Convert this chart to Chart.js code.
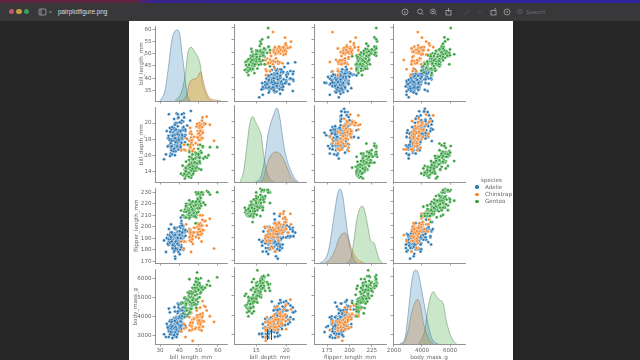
<!DOCTYPE html>
<html>
<head>
<meta charset="utf-8">
<title>pairplotfigure.png</title>
<script src="https://cdn.jsdelivr.net/npm/chart.js@4"></script>
<style>
  html, body { margin: 0; width: 640px; height: 360px; overflow: hidden; background: #262627; }
  #page { position: absolute; left: 0; top: 0; width: 640px; height: 360px; filter: blur(0.45px); font-family: "DejaVu Sans", sans-serif; }
  #strip { position: absolute; left: 0; top: 0; width: 640px; height: 3px; background: linear-gradient(90deg, #5e2440 0, #5e2440 135px, #3a2390 150px, #2c23a0 640px); }
  #bar { position: absolute; left: 0; top: 3px; width: 640px; height: 18px; background: #38383a; }
  #name { position: absolute; left: 58px; top: 8px; color: #dcdcdc; font: 6.4px "Liberation Sans", sans-serif; }
  #search { position: absolute; left: 526px; top: 8.5px; color: #6b6b6d; font: 6px "Liberation Sans", sans-serif; }
  .light { position: absolute; top: 8.5px; width: 5.5px; height: 5.5px; border-radius: 50%; }
  #sheet { position: absolute; left: 129px; top: 21px; width: 384px; height: 339px; background: #fff; }
  #plots canvas { position: absolute; }
  #legend { position: absolute; left: 0; top: 0; color: #666; font-size: 5.6px; }
  #legend span { position: absolute; white-space: nowrap; line-height: 7px; }
  #legend i { position: absolute; width: 3.4px; height: 3.4px; border-radius: 50%; }
  .cursor { position: absolute; background: #444; }
</style>
</head>
<body>
<div id="page">
  <div id="strip"></div>
  <div id="bar"></div>
  <div class="light" style="left:8.5px;background:#c4586a"></div>
  <div class="light" style="left:16px;background:#c89c3e"></div>
  <div class="light" style="left:23.5px;background:#3f9f5a"></div>
  <div id="name">pairplotfigure.png</div>
  <svg style="position:absolute;left:0;top:0" width="640" height="24" fill="none" stroke="#a8a8aa" stroke-width="0.8">
    <rect x="39" y="9" width="7" height="6" rx="1"/><path d="M41 9v6M49 12h3"/>
    <circle cx="405" cy="12" r="3"/><path d="M405 11v3"/>
    <circle cx="420" cy="11.5" r="2.4"/><path d="M422 13.5l1.5 1.5"/>
    <circle cx="433" cy="11.5" r="2.4"/><path d="M435 13.5l1.5 1.5M433 10.5v2M432 11.5h2"/>
    <rect x="446" y="10.5" width="5" height="4.5"/><path d="M448.5 12V8"/>
    <path stroke="#5c5c5e" d="M465 15l4-5M478 11.5l1.5 1.5 1.5-1.5"/>
    <rect x="491" y="10.5" width="5" height="4.5"/><path d="M494 10l2-2"/>
    <circle cx="507" cy="12" r="3"/><path d="M506 11l1 1.5 1-1.5"/>
    <circle cx="520" cy="11.5" r="2" stroke="#6b6b6d"/>
  </svg>
  <div id="search">Search</div>
  <div id="sheet"></div>
  <div id="plots"></div>
  <div class="cursor" style="left:267px;top:329px;width:0.7px;height:11px"></div>
  <div class="cursor" style="left:270.5px;top:329px;width:0.7px;height:11px"></div>
  <div id="legend"></div>
</div>
<script>
// columns: bill_length_mm, bill_depth_mm, flipper_length_mm, body_mass_g
const adelie = [
  [39.1,18.7,181,3750],[39.5,17.4,186,3800],[40.3,18.0,195,3250],[36.7,19.3,193,3450],[39.3,20.6,190,3650],
  [38.9,17.8,181,3625],[39.2,19.6,195,4675],[34.1,18.1,193,3475],[42.0,20.2,190,4250],[37.8,17.1,186,3300],
  [37.8,17.3,180,3700],[41.1,17.6,182,3200],[38.6,21.2,191,3800],[34.6,21.1,198,4400],[36.6,17.8,185,3700],
  [38.7,19.0,195,3450],[42.5,20.7,197,4500],[34.4,18.4,184,3325],[46.0,21.5,194,4200],[37.8,18.3,174,3400],
  [37.7,18.7,180,3600],[35.9,19.2,189,3800],[38.2,18.1,185,3950],[38.8,17.2,180,3800],[35.3,18.9,187,3800],
  [40.6,18.6,183,3550],[40.5,17.9,187,3200],[37.9,18.6,172,3150],[40.5,18.9,180,3950],[39.5,16.7,178,3250],
  [37.2,18.1,178,3900],[39.5,17.8,188,3300],[40.9,18.9,184,3900],[36.4,17.0,195,3325],[39.2,21.1,196,4150],
  [38.8,20.0,190,3950],[42.2,18.5,180,3550],[37.6,19.3,181,3300],[39.8,19.1,184,4650],[36.5,18.0,182,3150],
  [40.8,18.4,195,3900],[36.0,18.5,186,3100],[44.1,19.7,196,4400],[37.0,16.9,185,3000],[39.6,18.8,190,4600],
  [41.1,19.0,182,3425],[37.5,18.9,179,2975],[36.0,17.9,190,3450],[42.3,21.2,191,4150],[39.6,17.7,186,3500],
  [40.1,18.9,188,4300],[35.0,17.9,190,3450],[42.0,19.5,200,4050],[34.5,18.1,187,2900],[41.4,18.6,191,3700],
  [39.0,17.5,186,3550],[40.6,18.8,193,3800],[36.5,16.6,181,2850],[37.6,19.1,194,3750],[35.7,16.9,185,3150],
  [41.3,21.1,195,4400],[37.6,17.0,185,3600],[41.1,18.2,192,4050],[36.4,17.1,184,2850],[41.6,18.0,192,3950],
  [35.5,16.2,195,3350],[41.1,19.1,188,4100],[35.9,16.6,190,3050],[41.8,19.4,198,4450],[33.5,19.0,190,3600],
  [39.7,18.4,190,3900],[39.6,17.2,196,3550],[45.8,18.9,197,4150],[35.5,17.5,190,3700],[42.8,18.5,195,4250],
  [40.9,16.8,191,3700],[37.2,19.4,184,3900],[36.2,16.1,187,3550],[42.1,19.1,195,4000],[34.6,17.2,189,3200],
  [42.9,17.6,196,4700],[36.7,18.8,187,3800],[35.1,19.4,193,4200],[37.3,17.8,191,3350],[41.3,20.3,194,3550],
  [36.3,19.5,190,3800],[36.9,18.6,189,3500],[38.3,19.2,189,3950],[38.9,18.8,190,3600],[35.7,18.0,202,3550],
  [41.1,18.1,205,4300],[34.0,17.1,185,3400],[39.6,18.1,186,4450],[36.2,17.3,187,3300],[40.8,18.9,208,4300],
  [38.1,18.6,190,3700],[40.3,18.5,196,4350],[33.1,16.1,178,2900],[43.2,18.5,192,4100],[35.0,17.9,192,3725],
  [41.0,20.0,203,4725],[37.7,16.0,183,3075],[37.8,20.0,190,4250],[37.9,18.6,193,2925],[39.7,18.9,184,3550],
  [38.6,17.2,199,3750],[38.2,20.0,190,3900],[38.1,17.0,181,3175],[43.2,19.0,197,4775],[38.1,16.5,198,3825],
  [45.6,20.3,191,4600],[39.7,17.7,193,3200],[42.2,19.5,197,4275],[39.6,20.7,191,3900],[42.7,18.3,196,4075],
  [38.6,17.0,188,2900],[37.3,20.5,199,3775],[35.7,17.0,189,3350],[41.1,18.6,189,3325],[36.2,17.2,187,3150],
  [37.7,19.8,198,3500],[40.2,17.0,176,3450],[41.4,18.5,202,3875],[35.2,15.9,186,3050],[40.6,19.0,199,4000],
  [38.8,17.6,191,3275],[41.5,18.3,195,4300],[39.0,17.1,191,3050],[44.1,18.0,210,4000],[38.5,17.9,190,3325],
  [43.1,19.2,197,3500],[36.8,18.5,193,3500],[37.5,18.5,199,4475],[38.1,17.6,187,3425],[41.1,17.5,190,3900],
  [35.6,17.5,191,3175],[40.2,20.1,200,3975],[37.0,16.5,185,3400],[39.7,17.9,193,4250],[40.2,17.1,193,3400],
  [40.6,17.2,187,3475],[32.1,15.5,188,3050],[40.7,17.0,190,3725],[37.3,16.8,192,3000],[39.0,18.7,185,3650],
  [39.2,18.6,190,4250],[36.6,18.4,184,3475],[36.0,17.8,195,3450],[37.8,18.1,193,3750],[36.0,17.1,187,3700],
  [41.5,18.5,201,4000]
];
const chinstrap = [
  [46.5,17.9,192,3500],[50.0,19.5,196,3900],[51.3,19.2,193,3650],[45.4,18.7,188,3525],[52.7,19.8,197,3725],
  [45.2,17.8,198,3950],[46.1,18.2,178,3250],[51.3,18.2,197,3750],[46.0,18.9,195,4150],[51.3,19.9,198,3700],
  [46.6,17.8,193,3800],[51.7,20.3,194,3775],[47.0,17.3,185,3700],[52.0,18.1,201,4050],[45.9,17.1,190,3575],
  [50.5,19.6,201,4050],[50.3,20.0,197,3300],[58.0,17.8,181,3700],[46.4,18.6,190,3450],[49.2,18.2,195,4400],
  [42.4,17.3,181,3600],[48.5,17.5,191,3400],[43.2,16.6,187,2900],[50.6,19.4,193,3800],[46.7,17.9,195,3300],
  [52.0,19.0,197,4150],[50.5,18.4,200,3400],[49.5,19.0,200,3800],[46.4,17.8,191,3700],[52.8,20.0,205,4550],
  [40.9,16.6,187,3200],[54.2,20.8,201,4300],[42.5,16.7,187,3350],[51.0,18.8,203,4100],[49.7,18.6,195,3600],
  [47.5,16.8,199,3900],[47.6,18.3,195,3850],[52.0,20.7,210,4800],[46.9,16.6,192,2700],[53.5,19.9,205,4500],
  [49.0,19.5,210,3950],[46.2,17.5,187,3650],[50.9,19.1,196,3550],[45.5,17.0,196,3500],[50.9,17.9,196,3675],
  [50.8,18.5,201,4450],[50.1,17.9,190,3400],[49.0,19.6,212,4300],[51.5,18.7,187,3250],[49.8,17.3,198,3675],
  [48.1,16.4,199,3325],[51.4,19.0,201,3950],[45.7,17.3,193,3600],[50.7,19.7,203,4050],[42.5,17.3,187,3350],
  [52.2,18.8,197,3450],[45.2,16.6,191,3250],[49.3,19.9,203,4050],[50.2,18.8,202,3800],[45.6,19.4,194,3525],
  [51.9,19.5,206,3950],[46.8,16.5,189,3650],[45.7,17.0,195,3650],[55.8,19.8,207,4000],[43.5,18.1,202,3400],
  [49.6,18.2,193,3775],[50.8,19.0,210,4100],[50.2,18.7,198,3775]
];
const gentoo = [
  [46.1,13.2,211,4500],[50.0,16.3,230,5700],[48.7,14.1,210,4450],[50.0,15.2,218,5700],[47.6,14.5,215,5400],
  [46.5,13.5,210,4550],[45.4,14.6,211,4800],[46.7,15.3,219,5200],[43.3,13.4,209,4400],[46.8,15.4,215,5150],
  [40.9,13.7,214,4650],[49.0,16.1,216,5550],[45.5,13.7,214,4650],[48.4,14.6,213,5850],[45.8,14.6,210,4200],
  [49.3,15.7,217,5850],[42.0,13.5,210,4150],[49.2,15.2,221,6300],[46.2,14.5,209,4800],[48.7,15.1,222,5350],
  [50.2,14.3,218,5700],[45.1,14.5,215,5000],[46.5,14.5,213,4400],[46.3,15.8,215,5050],[42.9,13.1,215,5000],
  [46.1,15.1,215,5100],[44.5,14.3,216,4100],[47.8,15.0,215,5650],[48.2,14.3,210,4600],[50.0,15.3,220,5550],
  [47.3,15.3,222,5250],[42.8,14.2,209,4700],[45.1,14.5,207,5050],[59.6,17.0,230,6050],[49.1,14.8,220,5150],
  [48.4,16.3,220,5400],[42.6,13.7,213,4950],[44.4,17.3,219,5250],[44.0,13.6,208,4350],[48.7,15.7,208,5350],
  [42.7,13.7,208,3950],[49.6,16.0,225,5700],[45.3,13.7,210,4300],[49.6,15.0,216,4750],[50.5,15.9,222,5550],
  [43.6,13.9,217,4900],[45.5,13.9,210,4200],[50.5,15.9,225,5400],[44.9,13.3,213,5100],[45.2,15.8,215,5300],
  [46.6,14.2,210,4850],[48.5,14.1,220,5300],[45.1,14.4,210,4400],[50.1,15.0,225,5000],[46.5,14.4,217,4900],
  [45.0,15.4,220,5050],[43.8,13.9,208,4300],[45.5,15.0,220,5000],[43.2,14.5,208,4450],[50.4,15.3,224,5550],
  [45.3,13.8,208,4200],[46.2,14.9,221,5300],[45.7,13.9,214,4400],[54.3,15.7,231,5650],[45.8,14.2,219,4700],
  [49.8,16.8,230,5700],[46.2,14.4,214,4650],[49.5,16.2,229,5800],[43.5,14.2,220,4700],[50.7,15.0,223,5550],
  [47.7,15.0,216,4750],[46.4,15.6,221,5000],[48.2,15.6,221,5100],[46.5,14.8,217,5200],[46.4,15.0,216,4700],
  [48.6,16.0,230,5800],[47.5,14.2,209,4600],[51.1,16.3,220,6000],[45.2,13.8,215,4750],[45.2,16.4,223,5950],
  [49.1,14.5,212,4625],[52.5,15.6,221,5450],[47.4,14.6,212,4725],[50.0,15.9,224,5350],[44.9,13.8,212,4750],
  [50.8,17.3,228,5600],[43.4,14.4,218,4600],[51.3,14.2,218,5300],[47.5,14.0,212,4875],[52.1,17.0,230,5550],
  [47.5,15.0,218,4950],[52.2,17.1,228,5400],[45.5,14.5,212,4750],[49.5,16.1,224,5650],[44.5,14.7,214,4850],
  [50.8,15.7,226,5200],[49.4,15.8,216,4925],[46.9,14.6,222,4875],[48.4,14.4,203,4625],[51.1,16.5,225,5250],
  [48.5,15.0,219,4850],[55.9,17.0,228,5600],[47.2,15.5,215,4975],[49.1,15.0,228,5500],[46.8,16.1,215,5500],
  [41.7,14.7,210,4700],[53.4,15.8,219,5500],[43.3,14.0,208,4575],[48.1,15.1,209,5500],[50.5,15.2,216,5000],
  [49.8,15.9,229,5950],[43.5,15.2,213,4650],[51.5,16.3,230,5500],[46.2,14.1,217,4375],[55.1,16.0,230,5850],
  [48.8,16.2,222,6000],[47.2,13.7,214,4925],[46.8,14.3,215,4850],[50.4,15.7,222,5750],[45.2,14.8,212,5200],
  [49.9,16.1,213,5400]
];

const speciesNames = ['Adelie', 'Chinstrap', 'Gentoo'];
const variables = ['bill_length_mm', 'bill_depth_mm', 'flipper_length_mm', 'body_mass_g'];

const xRanges = [[27.4, 64.7], [11.3, 23.3], [160.2, 241], [1930, 7070]];
const yRanges = [[30.6, 61.2], [12.66, 21.95], [168.3, 233.4], [2534, 6466]];
const xTicks = [[30, 40, 50, 60], [15, 20], [175, 200, 225], [2000, 4000, 6000]];
const yTicks = [[35, 40, 45, 50, 55, 60], [14, 16, 18, 20], [170, 180, 190, 200, 210, 220, 230], [3000, 4000, 5000, 6000]];

// diagonal curves: [value, share of panel height]
const kdeBillLengthAdelie = [[30,0],[32.6,.14],[34.4,.46],[36.1,.81],[37.4,.92],[38.8,.95],[40.2,.9],[41.4,.64],[42.3,.46],[43.2,.25],[44.4,.05],[45.8,0]];
const kdeBillLengthChinstrap = [[39.6,0],[42.3,.02],[44,.1],[45.4,.25],[47.2,.29],[49.2,.31],[51,.39],[52.4,.27],[53.7,.14],[55.4,.05],[57.2,.02],[59.8,.01],[61.5,0]];
const kdeBillLengthGentoo = [[37.9,0],[41.4,.14],[43.2,.38],[44.4,.64],[46.2,.72],[47.9,.66],[49.6,.59],[51,.46],[51.9,.25],[53.7,.1],[55.4,.02],[57.2,0]];
const kdeBillDepthAdelie = [[14.83,0],[15.67,.05],[16.4,.29],[16.9,.59],[17.33,.74],[17.9,.87],[18.44,.96],[18.9,.85],[19.3,.64],[19.83,.38],[20.4,.22],[20.94,.12],[21.5,.04],[22.05,0]];
const kdeBillDepthChinstrap = [[15.67,0],[16.2,.05],[16.78,.22],[17.33,.33],[17.9,.38],[18.6,.39],[19.3,.33],[19.83,.25],[20.4,.14],[20.94,.05],[21.5,.01],[21.8,0]];
const kdeBillDepthGentoo = [[12.33,0],[12.9,.14],[13.44,.46],[13.9,.74],[14.44,.85],[14.83,.79],[15.4,.7],[15.83,.61],[16.2,.38],[16.67,.16],[17.2,.05],[17.9,0]];
const kdeFlipperAdelie = [[167,0],[172.7,.05],[176.5,.16],[180.3,.42],[184.1,.72],[186.7,.9],[189.4,.96],[192.4,.87],[195.5,.61],[198.1,.38],[201.2,.18],[205,.05],[208.7,0]];
const kdeFlipperChinstrap = [[172.7,0],[178.4,.05],[184.1,.18],[187.9,.31],[191.7,.38],[195.5,.39],[198.5,.33],[201.9,.2],[205,.12],[208.7,.05],[212.5,.02],[216.3,0]];
const kdeFlipperGentoo = [[196.6,0],[201.2,.05],[205,.29],[208,.55],[211.4,.7],[214.4,.74],[217.4,.66],[220.9,.46],[223.9,.29],[227.7,.26],[230.3,.16],[233.4,.05],[237.2,0]];
const kdeMassAdelie = [[2430,0],[2786,.08],[3024,.41],[3190,.7],[3381,.92],[3572,.96],[3762,.9],[3976,.7],[4214,.46],[4452,.24],[4690,.08],[4930,.02],[5166,0]];
const kdeMassChinstrap = [[2548,0],[2786,.04],[3024,.19],[3262,.41],[3500,.54],[3690,.58],[3857,.52],[4095,.28],[4333,.13],[4571,.04],[4810,0]];
const kdeMassGentoo = [[3738,0],[3976,.06],[4214,.19],[4381,.41],[4571,.59],[4810,.68],[5047,.61],[5285,.57],[5523,.52],[5761,.28],[6000,.13],[6237,.04],[6475,0]];

const speciesRows = [adelie, chinstrap, gentoo];
const kdeCurves = [
  [kdeBillLengthAdelie, kdeBillLengthChinstrap, kdeBillLengthGentoo],
  [kdeBillDepthAdelie, kdeBillDepthChinstrap, kdeBillDepthGentoo],
  [kdeFlipperAdelie, kdeFlipperChinstrap, kdeFlipperGentoo],
  [kdeMassAdelie, kdeMassChinstrap, kdeMassGentoo]
];

const colors = ['#2a78b2', '#f5862a', '#339e3c'];
const fills = ['rgba(31,119,180,0.25)', 'rgba(255,127,14,0.32)', 'rgba(44,160,44,0.25)'];
const edges = ['rgba(70,110,150,0.6)', 'rgba(150,120,70,0.6)', 'rgba(80,130,85,0.6)'];

// panel geometry in page pixels
const colLeft = [155, 234, 314, 393];
const colWidth = 71.5;
const rowTop = [24, 105, 186, 267];
const rowHeight = 77;
const marginL = 28, marginB = 19, marginT = 2, marginR = 3;
const titleInset = [11.5, 11, 6.5, 5];
const textColor = '#666';
const spineColor = '#777';

function axisBase(ticks, range, label, showLabels, afterFit, titlePadding) {
  return {
    type: 'linear',
    min: range[0],
    max: range[1],
    afterBuildTicks: scale => { scale.ticks = ticks.map(v => ({ value: v })); },
    afterFit: afterFit,
    grid: { drawOnChartArea: false, drawTicks: true, tickLength: 2.5, color: spineColor, lineWidth: 0.7 },
    border: { color: spineColor, width: 0.8 },
    ticks: {
      display: showLabels, autoSkip: false, maxRotation: 0, padding: 1, color: textColor,
      font: { family: 'DejaVu Sans', size: 5.6 },
      callback: v => String(v)
    },
    title: { display: showLabels, text: label, color: textColor, padding: titlePadding, font: { family: 'DejaVu Sans', size: 5.6 } }
  };
}

function scatterData(col, row) {
  // first dataset ends up on top, so Adelie goes last
  return [2, 1, 0].map(s => ({
    data: speciesRows[s].map(r => ({ x: r[col], y: r[row] })),
    backgroundColor: colors[s],
    borderColor: '#fff',
    borderWidth: 0.4,
    pointRadius: 1.55,
    clip: false
  }));
}

function kdeData(i) {
  return [0, 1, 2].map(s => ({
    data: kdeCurves[i][s].map(p => ({ x: p[0], y: p[1] })),
    yAxisID: 'yD',
    fill: 'origin',
    backgroundColor: fills[s],
    borderColor: edges[s],
    borderWidth: 0.8,
    pointRadius: 0,
    cubicInterpolationMode: 'monotone'
  }));
}

const plots = document.getElementById('plots');
for (let row = 0; row < 4; row++) {
  for (let col = 0; col < 4; col++) {
    const canvas = document.createElement('canvas');
    const w = marginL + colWidth + marginR;
    const h = marginT + rowHeight + marginB;
    canvas.width = Math.round(w);
    canvas.height = h;
    canvas.style.left = (colLeft[col] - marginL) + 'px';
    canvas.style.top = (rowTop[row] - marginT) + 'px';
    plots.appendChild(canvas);

    const scales = {
      x: axisBase(xTicks[col], xRanges[col], variables[col], row === 3,
        s => { s.height = marginB; }, { top: 0, bottom: 2 }),
      y: axisBase(yTicks[row], yRanges[row], variables[row], col === 0,
        s => { s.width = marginL; }, { top: titleInset[row], bottom: 0 })
    };
    if (row === col) scales.yD = { display: false, min: 0, max: 1 };

    new Chart(canvas, {
      type: row === col ? 'line' : 'scatter',
      data: { datasets: row === col ? kdeData(row) : scatterData(col, row) },
      options: {
        responsive: false,
        animation: false,
        devicePixelRatio: 1,
        layout: { autoPadding: false, padding: { top: marginT, right: marginR, left: 0, bottom: 0 } },
        plugins: { legend: { display: false }, tooltip: { enabled: false } },
        scales: scales
      }
    });
  }
}

// seaborn puts its legend outside the axes, on the right
const legend = document.getElementById('legend');
const legendTitle = document.createElement('span');
legendTitle.textContent = 'species';
legendTitle.style.cssText = 'left:481px;top:176.5px';
legend.appendChild(legendTitle);
speciesNames.forEach((name, i) => {
  const y = 187 + i * 7.4;
  const dot = document.createElement('i');
  dot.style.cssText = 'left:475.3px;top:' + (y - 1.7) + 'px;background:' + colors[i];
  legend.appendChild(dot);
  const label = document.createElement('span');
  label.textContent = name;
  label.style.cssText = 'left:485px;top:' + (y - 3.5) + 'px';
  legend.appendChild(label);
});
</script>
</body>
</html>
